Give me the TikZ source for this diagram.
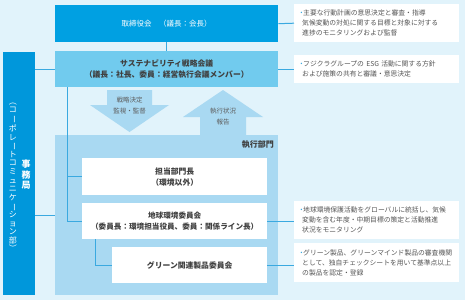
\documentclass[tikz,border=0pt]{standalone}
\usepackage{fontspec}
\setmainfont{Noto Sans CJK JP}
\usepackage{graphicx}
\usepackage{tikz}
\usetikzlibrary{positioning}
\definecolor{bgblue}{RGB}{225,243,251}
\definecolor{boardblue}{RGB}{0,160,226}
\definecolor{sustblue}{RGB}{113,203,238}
\definecolor{barblue}{RGB}{0,151,219}
\definecolor{execblue}{RGB}{169,217,242}
\definecolor{lineblue}{RGB}{58,169,224}
\definecolor{textgray}{RGB}{64,64,64}
\definecolor{notegray}{RGB}{85,85,85}
\newcommand{\nb}{\makebox[5pt][l]{\color{lineblue}・}}
\newcommand{\vrot}[1]{\rotatebox[origin=c]{-90}{#1}}
\tikzset{
  orgbox/.style={anchor=north west, inner sep=0pt, align=center,
                 font=\bfseries\fontsize{7.8}{11}\selectfont, text=textgray},
  whitebox/.style={orgbox, fill=white},
  notebox/.style={fill=white, anchor=north west, minimum width=165pt,
                  inner xsep=4pt, inner ysep=0pt, text width=157pt, align=left,
                  font=\fontsize{6.8}{10}\selectfont, text=notegray},
  linkline/.style={draw=lineblue, line width=1pt},
  blockarr/.style={fill=execblue},
  arrtext/.style={font=\fontsize{6.5}{11}\selectfont, text=textgray!85, align=center},
  vtext/.style={text=white, align=center, inner sep=0pt}
}

\begin{document}
\begin{tikzpicture}[x=1pt, y=-1pt]
        \fill[bgblue] (0,0) rectangle (465,300);
        \useasboundingbox (0,0) rectangle (465,300);

        % left column
        \node[fill=barblue, anchor=north west, inner sep=0pt,
              minimum width=32pt, minimum height=243pt] (bar) at (3,52) {};
        \node[vtext, font=\fontsize{8}{8.6}\selectfont] (barsub) at (13,175)
              {\vrot{（}\\コ\\\vrot{ー}\\ポ\\レ\\\vrot{ー}\\ト\\コ\\ミ\\ュ\\ニ\\ケ\\\vrot{ー}\\シ\\ョ\\ン\\部\\\vrot{）}};
        \node[vtext, font=\bfseries\fontsize{9}{10.5}\selectfont] (barmain) at (26,175)
              {事\\務\\局};

        % board and strategy meeting
        \node[orgbox, fill=boardblue, text=white, font=\fontsize{7.5}{11}\selectfont,
              minimum width=223pt, minimum height=37pt] (board) at (55,5)
              {取締役会　（議長：会長）};
        \node[orgbox, fill=sustblue,
              minimum width=223pt, minimum height=36pt] (sust) at (55,51)
              {サステナビリティ戦略会議\\（議長：社長、委員：経営執行会議メンバー）};

        % block arrows
        \fill[blockarr] (107,90) -- (152,90) -- (152,105) -- (169,105) -- (129.5,132)
              -- (90,105) -- (107,105) -- cycle;
        \fill[blockarr] (223,90) -- (263,117) -- (246,117) -- (246,136) -- (200,136)
              -- (200,117) -- (183,117) -- cycle;
        \node[arrtext] (down) at (129.5,106) {戦略決定\\監視・監督};
        \node[arrtext] (up) at (223,116.5) {執行状況\\報告};

        % execution department
        \node[orgbox, fill=execblue,
              minimum width=223pt, minimum height=160pt] (exec) at (55,135) {};
        \node[font=\bfseries\fontsize{8}{10}\selectfont, text=textgray,
              anchor=east, inner sep=0pt] (execlabel) at (274,145) {執行部門};

        \node[whitebox, minimum width=185pt, minimum height=37pt] (head) at (82,158)
              {担当部門長\\（環境以外）};
        \node[whitebox, font=\bfseries\fontsize{7.6}{11}\selectfont,
              minimum width=185pt, minimum height=36pt] (env) at (82,203)
              {地球環境委員会\\（委員長：環境担当役員、委員：関係ライン長）};
        \node[whitebox, minimum width=155pt, minimum height=36pt] (green) at (112,247)
              {グリーン関連製品委員会};

        % notes
        \node[notebox, minimum height=38pt] (n1) at (294,4)
              {\nb 主要な行動計画の意思決定と審査・指導\\
               \hspace{4pt}気候変動の対処に関する目標と対象に対する\\
               \hspace{4pt}進捗のモニタリングおよび監督};
        \node[notebox, minimum height=28pt] (n2) at (294,55)
              {\nb フジクラグループの ESG 活動に関する方針\\
               \hspace{4pt}および施策の共有と審議・意思決定};
        \node[notebox, minimum height=38pt] (n3) at (294,201)
              {\nb 地球環境保護活動をグローバルに統括し、気候\\
               \hspace{4pt}変動を含む年度・中期目標の策定と活動推進\\
               \hspace{4pt}状況をモニタリング};
        \node[notebox, minimum height=39pt] (n4) at (294,243)
              {\nb グリーン製品、グリーンマインド製品の審査機関\\
               \hspace{4pt}として、独自チェックシートを用いて基準点以上\\
               \hspace{4pt}の製品を認定・登録};

        % connectors
        \coordinate (trunk) at (67,87);
        \coordinate (subtrunk) at (95,239);
        \draw[linkline] (board.south) -- (sust.north);
        \draw[linkline] (board.east) -- (n1.west);
        \draw[linkline] (sust.east) -- (n2.west);
        \draw[linkline] (bar.east |- sust.west) -- (sust.west);
        \draw[linkline] (bar.east |- exec.west) -- (exec.west);
        \draw[linkline] (trunk) |- (env.west);
        \draw[linkline] (trunk |- head.west) -- (head.west);
        \draw[linkline] (subtrunk) |- (green.west);
        \draw[linkline] (env.east) -- (env.east -| n3.west);
        \draw[linkline] (green.east) -- (green.east -| n4.west);
      \end{tikzpicture}
\end{document}
